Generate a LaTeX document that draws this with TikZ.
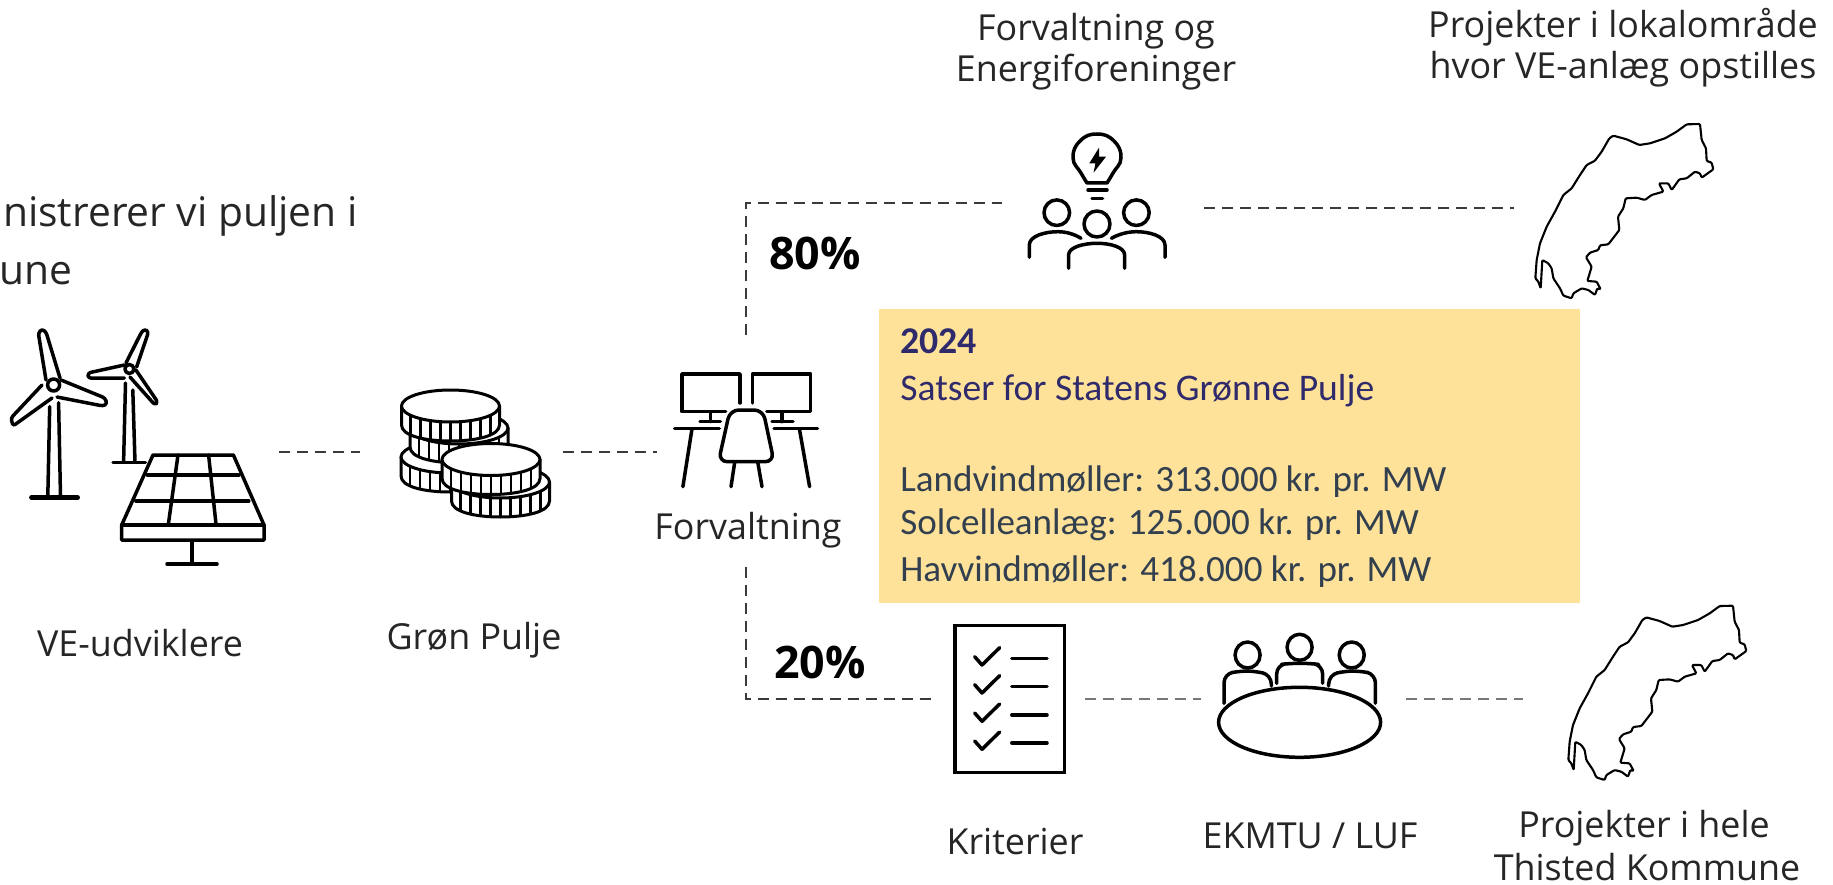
\documentclass[tikz,border=0pt]{standalone}
\usepackage{fontspec}
\setmainfont{Open Sans}
\newfontfamily\boxfont{Carlito}
\definecolor{boxfill}{HTML}{FFE299}
\definecolor{boxhead}{HTML}{2F2A6B}
\definecolor{boxbody}{HTML}{323F4F}
\definecolor{dashdark}{HTML}{3A3A3A}
\definecolor{dashgray}{HTML}{777777}
\tikzset{
  icon/.style={line width=0.07cm,line cap=round,line join=round,black},
  thinicon/.style={line width=0.042cm,line cap=round,line join=round,black,rounded corners=0.6pt},
  conn/.style={line width=0.05cm,dashdark,dash pattern=on 0.22cm off 0.14cm},
  conngray/.style={conn,dashgray,line width=0.055cm},
  lab/.style={font=\fontsize{20.4}{24}\selectfont,text=black!85,inner sep=0pt},
  pct/.style={font=\fontsize{25.5}{30}\selectfont\bfseries,inner sep=0pt},
  boxline/.style={font=\boxfont\fontsize{21.1}{26}\selectfont,text=boxbody,inner sep=0pt,anchor=base west},
  boxtitle/.style={boxline,text=boxhead},
}
\newcommand{\coinicon}[2]{%
  \fill[white] (#1-49,#2) rectangle (#1+49,#2+19);
  \fill[white] (#1,#2+19) ellipse [x radius=49,y radius=16];
  \draw[icon,line width=0.06cm] (#1-49,#2) -- (#1-49,#2+19) .. controls (#1-49,#2+30) and (#1-25,#2+35) .. (#1,#2+35) .. controls (#1+25,#2+35) and (#1+49,#2+30) .. (#1+49,#2+19) -- (#1+49,#2);
  \foreach \d in {-40,-30,-20,-10,0,10,20,30,40}
    \draw[icon,line width=0.05cm] ({#1+\d},{#2+16*sqrt(1-(\d/49)^2)}) -- ++(0,19);
  \draw[icon,line width=0.06cm,fill=white] (#1,#2) ellipse [x radius=49,y radius=16];
}
\newcommand{\kommunemap}[2]{%
  \begin{scope}[shift={(#1,#2)},x=0.006667cm,y=-0.006667cm]
  \draw[thinicon] (660,72)--(620,73)--(590,95)--(555,115)--(510,130)--(478,135)--(440,118)--(400,107)--(388,115)--(365,155)--(345,182)--(320,195)--(300,225)--(275,265)--(250,285)--(225,335)--(200,380)--(180,430)--(170,480)--(166,535)--(175,545)--(182,565)--(187,480)--(205,490)--(215,505)--(220,535)--(240,565)--(250,587)--(275,595)--(280,580)--(305,565)--(325,570)--(345,585)--(352,565)--(362,568)--(350,545)--(322,543)--(335,500)--(318,472)--(330,458)--(355,450)--(360,436)--(385,433)--(418,390)--(414,350)--(430,325)--(437,295)--(470,293)--(495,300)--(515,285)--(550,275)--(537,250)--(565,250)--(575,270)--(598,238)--(620,235)--(645,215)--(660,220)--(665,233)--(700,208)--(695,188)--(680,183)--(678,145)--(665,120)--cycle;
  \end{scope}
}
\begin{document}
\begin{tikzpicture}[x=0.02cm,y=-0.02cm]
\useasboundingbox (0,0) rectangle (1833,885);
\fill[white] (0,0) rectangle (1833,885);

% yellow box
\node[fill=boxfill,inner sep=0pt,minimum width=14.02cm,minimum height=5.88cm,anchor=north west] (box) at (879,309) {};
\node[boxtitle,font=\boxfont\bfseries\fontsize{21.5}{26}\selectfont] (year) at (900,354) {2024};
\node[boxtitle,font=\boxfont\fontsize{21.4}{26}\selectfont] (title) at (900,400) {Satser for Statens Grønne Pulje};
\node[boxline] (land) at (900,491) {Landvindmøller: 313.000 kr. pr. MW};
\node[boxline] (sol) at (900,534) {Solcelleanlæg: 125.000 kr. pr. MW};
\node[boxline] (hav) at (900,581) {Havvindmøller: 418.000 kr. pr. MW};

% top-left text
\node[font=\fontsize{23.2}{28}\selectfont,inner sep=0pt,anchor=east,text=black!85] (intro1) at (358,216) {nistrerer vi puljen i};
\node[font=\fontsize{23.2}{28}\selectfont,inner sep=0pt,anchor=east,text=black!85] (intro2) at (73,274) {une};

% labels
\node[lab] (lve) at (140,643) {VE-udviklere};
\node[lab] (lgp) at (474,640) {Grøn Pulje};
\node[lab] (lfo) at (748,530) {Forvaltning};
\node[lab] (lfe1) at (1096,31) {Forvaltning og};
\node[lab] (lfe2) at (1096,72) {Energiforeninger};
\node[lab] (lpl1) at (1623,27) {Projekter i lokalområde};
\node[lab] (lpl2) at (1623,69) {hvor VE-anlæg opstilles};
\node[lab] (lkr) at (1015,842) {Kriterier};
\node[lab] (lek) at (1310,836) {EKMTU / LUF};
\node[lab] (lph1) at (1644,828) {Projekter i hele};
\node[lab] (lph2) at (1647,867) {Thisted Kommune};
\node[pct] (p80) at (815,253) {80\%};
\node[pct] (p20) at (820,662) {20\%};

% connector ends
\coordinate (ve) at (279,452); \coordinate (gpl) at (360,452);
\coordinate (gpr) at (563,452); \coordinate (fol) at (657,452);
\coordinate (fotop) at (746,335); \coordinate (cornerT) at (746,203); \coordinate (fe) at (1002,203);
\coordinate (fer) at (1204,208); \coordinate (mapT) at (1514,208);
\coordinate (fobot) at (746,567); \coordinate (cornerB) at (746,699); \coordinate (krl) at (933,699);
\coordinate (krr) at (1085,699); \coordinate (tabl) at (1201,699);
\coordinate (tabr) at (1406,699); \coordinate (mapB) at (1523,699);
\draw[conn] (ve) -- (gpl);
\draw[conn] (gpr) -- (fol);
\draw[conn] (fotop) -- (cornerT) -- (fe);
\draw[conn] (fer) -- (mapT);
\draw[conn] (fobot) -- (cornerB) -- (krl);
\draw[conngray] (krr) -- (tabl);
\draw[conngray] (tabr) -- (mapB);

% turbine 1
\draw[icon] (49.7,406.7)--(47.8,496.7) (58.6,402.7)--(60.5,496.7);
\draw[icon,line width=0.09cm] (31.4,497.7)--(77.7,497.7);
\draw[icon,rounded corners=1.5pt] (46,380)--(38.3,333)--(42,329)--(46,332)--(60,378);
\draw[icon,rounded corners=1.5pt] (61,380)--(105,398)--(107,404)--(103,406)--(57,397);
\draw[icon,rounded corners=1.5pt] (42,385)--(11,418)--(13,426)--(52,398);
\draw[icon] (53.6,385) circle [radius=6];
% turbine 2
\draw[icon] (125.5,383)--(123.6,462) (132.8,390)--(135,462);
\draw[icon] (113,462.3)--(145.4,462.3);
\draw[icon,rounded corners=1.5pt] (126,363)--(141.6,332)--(145,329)--(148.5,332)--(136.6,367);
\draw[icon,rounded corners=1.5pt] (124.4,365)--(88,373)--(88,378)--(124.4,378);
\draw[icon,rounded corners=1.5pt] (135.9,370)--(157.7,402)--(155,405)--(130,377);
\draw[icon] (129.4,369) circle [radius=4.5];
% solar panel
\draw[icon,fill=white] (153,455)--(233.4,455)--(264,525)--(264,540)--(121.7,540)--(121.7,525)--cycle;
\draw[icon] (121.7,525)--(264,525);
\draw[icon] (147.3,475)--(239,475) (135.9,501)--(248.8,501);
\draw[icon] (178,455)--(168.4,524) (208.6,455)--(216,524);
\draw[icon] (192,541)--(192,563) (167,564)--(217,564);

% coins
\coinicon{450}{457}
\coinicon{459}{428}
\coinicon{450.5}{406}
\coinicon{500.5}{482}
\coinicon{491}{459.5}

% workstation
\draw[icon] (740,403)--(740,374)--(682,374)--(682,411.7)--(725.7,411.7);
\draw[icon] (752.5,403)--(752.5,374)--(810.7,374)--(810.7,411.7)--(766.8,411.7);
\draw[icon] (710.4,411.7)--(710.4,421.7) (700,421.7)--(720.4,421.7);
\draw[icon] (781.8,411.7)--(781.8,421.7) (772,421.7)--(793,421.7);
\draw[icon] (674.6,428.3)--(719.3,428.3) (774,428.3)--(817.5,428.3);
\draw[icon] (691.8,430)--(682.9,486.7) (799.6,430)--(809.6,486.7);
\draw[icon,rounded corners=5pt] (730,410)--(763,410)--(774,461.7)--(718.5,461.7)--cycle;
\draw[icon] (734.6,463)--(731,486.7) (757.9,463)--(762,486.7);

% bulb and people
\draw[icon] plot[smooth,tension=0.8] coordinates {(1087,183)(1081,173)(1073,158)(1080,141)(1097,134)(1114,141)(1121,158)(1113,173)(1107,183)} -- cycle;
\draw[icon] (1088,190)--(1107,190) (1092,198.7)--(1102.6,198.7);
\fill[black] (1099,147.7)--(1089.3,163.3)--(1095.4,163.3)--(1093.6,172.7)--(1106,156.7)--(1099,156.7)--cycle;
\draw[icon] (1056.8,212.7) circle [radius=12.8];
\draw[icon] (1136.4,212.7) circle [radius=12.8];
\draw[icon] (1097,224) circle [radius=13];
\draw[icon] (1029.3,257.3)--(1029.3,245) .. controls (1029.3,236) and (1045,231.7) .. (1057.8,231.7) .. controls (1066,231.7) and (1074,234) .. (1081,238.3);
\draw[icon] (1165,257.3)--(1165,245) .. controls (1165,236) and (1149,231.7) .. (1136.4,231.7) .. controls (1128,231.7) and (1119,234) .. (1111.4,238.3);
\draw[icon] (1068.6,268.3)--(1068.6,255) .. controls (1068.6,247) and (1084,243.3) .. (1097,243.3) .. controls (1110,243.3) and (1124.6,247) .. (1124.6,255)--(1124.6,268.3);

% checklist
\draw[icon,line width=0.07cm,line join=miter] (955.2,625.7) rectangle (1064.7,772.3);
\foreach \dy in {0,28,56.3,84.3}{
  \draw[icon] (974.7,656.7+\dy)--(982,665+\dy)--(999.6,647.7+\dy);
  \draw[icon,line width=0.07cm] (1011.8,658.7+\dy)--(1047,658.7+\dy);
}

% meeting table
\draw[icon] (1299.6,722.3) ellipse [x radius=81,y radius=35];
\draw[icon] (1247.6,655) ellipse [x radius=12.5,y radius=13];
\draw[icon] (1299.6,647.3) ellipse [x radius=12.5,y radius=13];
\draw[icon] (1351.7,655) ellipse [x radius=12.5,y radius=13];
\draw[icon,rounded corners=5pt] (1224,703.3)--(1224,674)--(1240,671)--(1255,671)--(1271.3,675)--(1271.3,686);
\draw[icon,rounded corners=5pt] (1328.7,686)--(1328.7,675)--(1345,671)--(1360,671)--(1375.4,674)--(1375.4,703.3);
\draw[icon,rounded corners=5pt] (1276.7,683.3)--(1276.7,665)--(1290,663.3)--(1310,663.3)--(1322.6,665)--(1322.6,683.3);

% maps
\kommunemap{1480}{100}
\kommunemap{1513}{581.7}
\end{tikzpicture}
\end{document}
